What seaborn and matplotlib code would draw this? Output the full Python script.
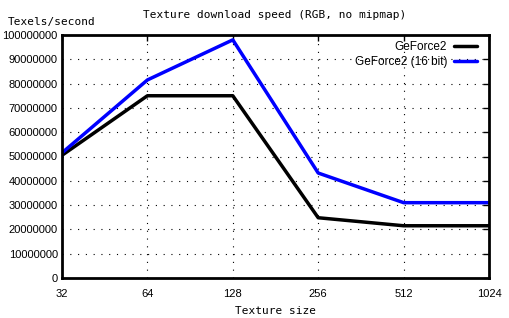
import matplotlib
matplotlib.use("Agg")
import matplotlib.pyplot as plt
import seaborn as sns
import pandas as pd

sizes = [32, 64, 128, 256, 512, 1024]
geforce2 = [50500000, 75000000, 75000000, 24800000, 21500000, 21500000]
geforce2_16bit = [51500000, 81500000, 98000000, 43200000, 31000000, 31000000]
series_names = ["GeForce2", "GeForce2 (16 bit)"]
yticks = list(range(0, 100000001, 10000000))

sns.set_style("white")
plt.rcParams['font.family'] = ['Liberation Sans', 'DejaVu Sans']
plt.rcParams['text.color'] = 'black'
plt.rcParams['xtick.color'] = 'black'
plt.rcParams['ytick.color'] = 'black'

df = pd.DataFrame({
    "size": sizes * 2,
    "value": geforce2 + geforce2_16bit,
    "series": [series_names[0]] * len(sizes) + [series_names[1]] * len(sizes),
})

fig = plt.figure(figsize=(5.1, 3.18), dpi=100)
ax = fig.add_axes([62/510, 40/318, (489-62)/510, (278-35)/318])
sns.lineplot(data=df, x="size", y="value", hue="series",
             palette={series_names[0]: "black", series_names[1]: "#0000ff"},
             linewidth=2.5, ax=ax)
ax.set_xscale("log", base=2)
ax.set_xlim(32, 1024)
ax.set_ylim(0, 100000000)
ax.set_xticks(sizes)
ax.set_xticklabels([str(s) for s in sizes], fontsize=8)
ax.set_yticks(yticks)
ax.set_yticklabels([str(v) for v in yticks], fontsize=8)
ax.minorticks_off()
ax.tick_params(axis="x", direction="in", length=4, width=1, top=True, pad=8)
ax.tick_params(axis="y", direction="in", length=4, width=1, right=True, pad=3)
ax.grid(True, color="black", linestyle=(0, (1, 6)), linewidth=0.8)
for s in ax.spines.values():
    s.set_linewidth(2)
    s.set_color("black")

ax.set_xlabel("Texture size", family="DejaVu Sans Mono", fontsize=8, labelpad=5, color="black")
ax.set_ylabel("")
fig.text(8/510, 1 - 22/318, "Texels/second", family="DejaVu Sans Mono", fontsize=8, va="center")
fig.text(275/510, 1 - 15/318, "Texture download speed (RGB, no mipmap)", family="DejaVu Sans Mono",
         fontsize=8, ha="center", va="center")

leg = ax.legend(loc="upper right", frameon=False, markerfirst=False, fontsize=8.5,
                handlelength=1.9, borderaxespad=0.1, labelspacing=0.25, handletextpad=0.6,
                bbox_to_anchor=(0.985, 1.0))
leg._legend_box.align = "right"

fig.savefig("out.png", dpi=100)
